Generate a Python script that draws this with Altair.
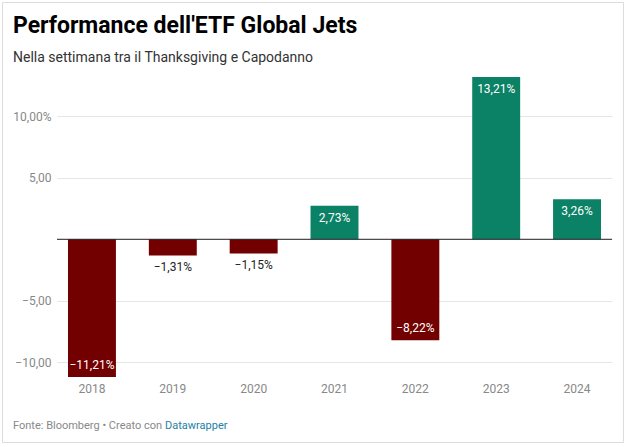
import altair as alt
import pandas as pd

years = ["2018", "2019", "2020", "2021", "2022", "2023", "2024"]
values = [-11.21, -1.31, -1.15, 2.73, -8.22, 13.21, 3.26]

title = "Performance dell'ETF Global Jets"
subtitle = "Nella settimana tra il Thanksgiving e Capodanno"
footer = "Fonte: Bloomberg • Creato con "
footer_link = "Datawrapper"

df = pd.DataFrame({"year": years, "value": values})
FONT = "Roboto"
RED = "#730000"
GREEN = "#0b8165"

base = alt.Chart(df)

x_enc = alt.X("year:N", sort=years, title=None,
              scale=alt.Scale(paddingInner=0.407, paddingOuter=0.136),
              axis=alt.Axis(labelAngle=0, ticks=False, domain=False, labelColor="#888888",
                            labelFont=FONT, labelFontSize=12, labelPadding=6))
y_scale = alt.Scale(domain=[-11.21, 13.21], nice=False, zero=False)

bars = base.mark_bar().encode(
    x=x_enc,
    y=alt.Y("value:Q", scale=y_scale, title=None,
            axis=alt.Axis(values=[-10, -5, 0, 5, 10], ticks=False, domain=False,
                          grid=True, gridColor="#e6e6e6", labelColor="#888888",
                          labelFont=FONT, labelFontSize=12, labelPadding=6,
                          labelExpr="datum.value == 0 ? '' : (datum.value == 10 ? '10,00%' : replace(format(datum.value, '.2f'), '.', ','))")),
    y2=alt.datum(0),
    color=alt.condition("datum.value > 0", alt.value(GREEN), alt.value(RED)),
)

zero = alt.Chart(pd.DataFrame({"z": [0]})).mark_rule(color="#222222", strokeWidth=1).encode(
    y=alt.Y("z:Q", scale=y_scale), x=alt.value(0), x2=alt.value(555))

lab = base.transform_calculate(
    label="replace(format(datum.value, '.2f'), '.', ',') + '%'"
)
txt_common = dict(font=FONT, fontSize=12, baseline="middle")
pos_in = lab.transform_filter("datum.value > 0").mark_text(color="white", dy=12, **txt_common).encode(
    x=alt.X("year:N", sort=years), y=alt.Y("value:Q", scale=y_scale), text="label:N")
neg_in = lab.transform_filter("datum.value < -5").mark_text(color="white", dy=-12, **txt_common).encode(
    x=alt.X("year:N", sort=years), y=alt.Y("value:Q", scale=y_scale), text="label:N")
neg_out = lab.transform_filter("datum.value >= -5 && datum.value < 0").mark_text(color="#222222", dy=12, **txt_common).encode(
    x=alt.X("year:N", sort=years), y=alt.Y("value:Q", scale=y_scale), text="label:N")

one = pd.DataFrame({"a": [0]})
OX, OY = 57, 77
t_title = alt.Chart(one).mark_text(font=FONT, fontSize=23, fontWeight="bold", color="#000000",
                                   align="left", baseline="middle").encode(
    x=alt.value(13 - OX), y=alt.value(26 - OY), text=alt.value(title))
t_sub = alt.Chart(one).mark_text(font=FONT, fontSize=14, color="#333333",
                                 align="left", baseline="middle").encode(
    x=alt.value(13 - OX), y=alt.value(58 - OY), text=alt.value(subtitle))
t_foot = alt.Chart(one).mark_text(font=FONT, fontSize=11, color="#888888",
                                  align="left", baseline="middle").encode(
    x=alt.value(13 - OX), y=alt.value(426 - OY), text=alt.value(footer))
t_link = alt.Chart(one).mark_text(font=FONT, fontSize=11, color="#1d81a2",
                                  align="left", baseline="middle").encode(
    x=alt.value(165 - OX), y=alt.value(426 - OY), text=alt.value(footer_link))
frame = alt.Chart(one).mark_rect(fill=None, stroke="#dcdcdc", strokeWidth=1).encode(
    x=alt.value(2.5 - OX), x2=alt.value(623.5 - OX), y=alt.value(2.5 - OY), y2=alt.value(442.5 - OY))

chart = alt.layer(frame, bars, zero, pos_in, neg_in, neg_out, t_title, t_sub, t_foot, t_link).properties(
    width=555, height=300,
    autosize=alt.AutoSizeParams(type="none"),
    padding={"left": OX, "top": OY, "right": 16, "bottom": 70},
    background="white",
).configure_view(stroke=None)

chart.save("out.html", embed_options={"renderer": "svg", "actions": False})
